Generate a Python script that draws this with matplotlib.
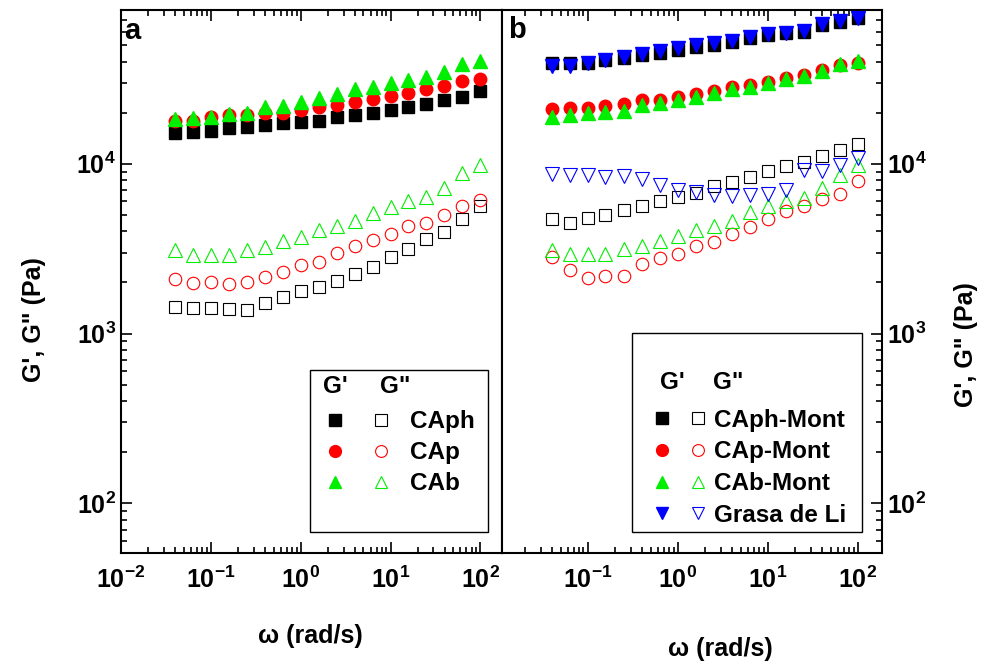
import matplotlib

matplotlib.use("Agg")
import matplotlib.pyplot as plt
from matplotlib import font_manager
from matplotlib.legend_handler import HandlerTuple
from matplotlib.patches import Rectangle

# angular frequency (rad/s), same sweep for every sample
omega = [0.0398, 0.0631, 0.1, 0.158, 0.251, 0.398, 0.631, 1.0, 1.58, 2.51,
         3.98, 6.31, 10.0, 15.8, 25.1, 39.8, 63.1, 100.0]

# panel a: G' (storage) and G'' (loss), Pa
caph_gp = [15170, 15490, 15630, 16220, 16570, 16890, 17270, 17580, 17980, 18820,
           19420, 20030, 20780, 21560, 22550, 23790, 24880, 26990]
caph_gpp = [1429, 1410, 1422, 1403, 1384, 1516, 1631, 1784, 1870, 2051,
            2241, 2478, 2818, 3141, 3606, 3946, 4731, 5662]
cap_gp = [17980, 17750, 18820, 19420, 19420, 19870, 20030, 20780, 21560, 22220,
          23050, 24110, 25120, 26080, 27740, 28770, 30770, 31600]
cap_gpp = [2099, 1987, 2013, 1967, 2013, 2158, 2298, 2525, 2643, 2985,
           3267, 3541, 3857, 4273, 4474, 5012, 5609, 6143]
cab_gp = [18330, 18570, 18960, 19580, 20030, 21560, 21950, 23240, 24320, 25840,
          27500, 28490, 30080, 31190, 32350, 34900, 38580, 40340]
cab_gpp = [3118, 2917, 2917, 2917, 3118, 3221, 3493, 3705, 4055, 4318,
           4622, 5128, 5563, 6058, 6363, 7190, 8815, 9870]

# panel b
caph_mont_gp = [39070, 39070, 39430, 40930, 41880, 43770, 45150, 46890, 48990, 50120,
                52380, 54860, 57380, 58750, 59980, 65740, 68780, 71960]
caph_mont_gpp = [4745, 4480, 4800, 5012, 5360, 5608, 6003, 6335, 6723, 7430,
                 7768, 8307, 9010, 9642, 10310, 11140, 12080, 13060]
cap_mont_gp = [20990, 21280, 21450, 21940, 22440, 23770, 23770, 24880, 25690, 26990,
               28250, 29150, 30500, 31920, 33410, 35760, 38250, 39430]
cap_mont_gpp = [2825, 2377, 2126, 2194, 2194, 2584, 2774, 2957, 3267, 3477,
                3873, 4244, 4731, 5240, 5610, 6196, 6665, 7870]
cab_mont_gp = [18840, 19420, 19870, 20300, 20500, 22220, 22740, 23770, 24880, 26270,
               27490, 28490, 30070, 31490, 32950, 35410, 38570, 40340]
cab_mont_gpp = [3093, 2943, 2943, 2943, 3147, 3266, 3510, 3734, 4051, 4318,
                4622, 5177, 5662, 5998, 6308, 7197, 8614, 9826]
grasa_gp = [37670, 37670, 39070, 40930, 42460, 44380, 46390, 47960, 50120, 51720,
            53120, 55630, 58220, 59210, 60770, 66620, 69720, 71960]
grasa_gpp = [8737, 8535, 8615, 8351, 8418, 8128, 7452, 6961, 6818, 6515,
             6427, 6550, 6665, 6961, 9135, 9011, 9772, 10850]

series_a = [
    ("CAph", caph_gp, caph_gpp, "s", "black"),
    ("CAp", cap_gp, cap_gpp, "o", "red"),
    ("CAb", cab_gp, cab_gpp, "^", "#00ee00"),
]
series_b = [
    ("CAph-Mont", caph_mont_gp, caph_mont_gpp, "s", "black"),
    ("CAp-Mont", cap_mont_gp, cap_mont_gpp, "o", "red"),
    ("CAb-Mont", cab_mont_gp, cab_mont_gpp, "^", "#00ee00"),
    ("Grasa de Li", grasa_gp, grasa_gpp, "v", "blue"),
]

marker_sizes = {"s": 8.5, "o": 9.0, "^": 10.0, "v": 10.0}

font_names = {f.name for f in font_manager.fontManager.ttflist}
narrow = "Liberation Sans Narrow" if "Liberation Sans Narrow" in font_names else "Liberation Sans"

plt.rcParams["font.family"] = ["Liberation Sans", "DejaVu Sans"]
plt.rcParams["font.weight"] = "bold"
plt.rcParams["axes.labelweight"] = "bold"
plt.rcParams["axes.unicode_minus"] = False


def draw_panel(ax, series):
    for _, gp, gpp, marker, color in series:
        ms = marker_sizes[marker]
        ax.plot(omega, gp, linestyle="none", marker=marker, markersize=ms,
                color=color, markeredgecolor=color)
        ax.plot(omega, gpp, linestyle="none", marker=marker, markersize=ms,
                markerfacecolor="none", markeredgecolor=color, markeredgewidth=0.8)
    ax.set_xscale("log")
    ax.set_yscale("log")
    ax.set_ylim(51, 80500)
    for side in ax.spines.values():
        side.set_linewidth(1.5)
    ax.tick_params(which="both", direction="in", top=True, bottom=True, width=1.2)
    ax.tick_params(which="major", length=8)
    ax.tick_params(which="minor", length=4)
    ax.tick_params(axis="x", labelsize=18, labelfontfamily=narrow, pad=10)
    ax.tick_params(axis="y", labelsize=18)


def draw_legend(ax, series, anchor, rect, headers, size, handlelength, pad, textpad, spacing):
    handles = []
    labels = []
    for name, _, _, marker, color in series:
        filled = plt.Line2D([], [], linestyle="none", marker=marker, markersize=8.5,
                            color=color)
        hollow = plt.Line2D([], [], linestyle="none", marker=marker, markersize=8.5,
                            markerfacecolor="none", markeredgecolor=color, markeredgewidth=0.8)
        handles.append((filled, hollow))
        labels.append(name)
    ax.legend(handles, labels, loc="upper left", bbox_to_anchor=anchor, frameon=False,
              numpoints=1, handler_map={tuple: HandlerTuple(ndivide=None, pad=pad)},
              handlelength=handlelength, handletextpad=textpad, labelspacing=spacing,
              borderpad=0, borderaxespad=0, prop={"size": size, "weight": "bold"})
    x0, y0, x1, y1 = rect
    ax.add_patch(Rectangle((x0, y0), x1 - x0, y1 - y0, transform=ax.transAxes,
                           fill=False, edgecolor="black", linewidth=1.0, zorder=5))
    for text, hx, hy in headers:
        ax.text(hx, hy, text, transform=ax.transAxes, ha="center", va="center",
                fontsize=size, fontweight="bold")


fig = plt.figure(figsize=(9.86, 6.64), dpi=100)
ax_a = fig.add_axes([121 / 986, 111 / 664, 381 / 986, 543 / 664])
ax_b = fig.add_axes([502 / 986, 111 / 664, 380 / 986, 543 / 664])

draw_panel(ax_a, series_a)
draw_panel(ax_b, series_b)

ax_a.set_xlim(0.01, 174)
ax_a.tick_params(axis="y", which="both", left=True, right=False)
ax_b.set_xlim(0.0112, 186)
ax_b.yaxis.tick_right()
ax_b.tick_params(axis="y", which="both", left=False, right=True, labelright=True)

ax_a.set_ylabel("G', G\" (Pa)", fontsize=18)
ax_a.yaxis.set_label_coords(-0.198, 0.429)
ax_b.yaxis.set_label_position("right")
ax_b.set_ylabel("G', G\" (Pa)", fontsize=18)
ax_b.yaxis.set_label_coords(1.19, 0.383)

ax_a.set_xlabel("ω (rad/s)", fontsize=18, fontfamily=narrow)
ax_a.xaxis.set_label_coords(0.496, -0.131)
ax_b.set_xlabel("ω (rad/s)", fontsize=18, fontfamily=narrow)
ax_b.xaxis.set_label_coords(0.574, -0.155)

ax_a.text(0.008, 0.962, "a", transform=ax_a.transAxes, fontsize=21, fontweight="bold",
          ha="left", va="center")
ax_b.text(0.016, 0.964, "b", transform=ax_b.transAxes, fontsize=21, fontweight="bold",
          ha="left", va="center")

draw_legend(ax_a, series_a, anchor=(0.543, 0.263), rect=(0.496, 0.039, 0.963, 0.337),
            headers=[("G'", 0.562, 0.306), ("G\"", 0.719, 0.306)],
            size=17.5, handlelength=2.47, pad=1.32, textpad=0.9, spacing=0.33)
draw_legend(ax_b, series_b, anchor=(0.403, 0.266), rect=(0.342, 0.039, 0.947, 0.405),
            headers=[("G'", 0.447, 0.314), ("G\"", 0.595, 0.314)],
            size=17.5, handlelength=2.06, pad=0.9, textpad=0.37, spacing=0.36)

fig.savefig("out.png", dpi=100)
plt.close(fig)
